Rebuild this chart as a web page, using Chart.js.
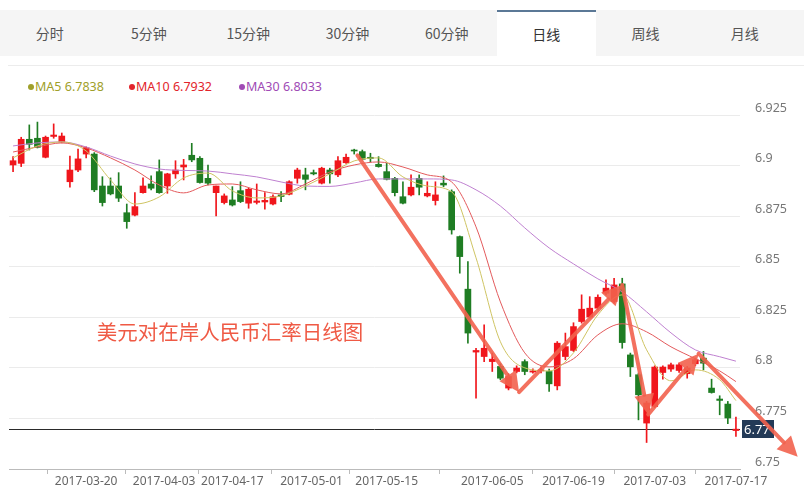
<!DOCTYPE html>
<html>
<head>
<meta charset="utf-8">
<script src="https://cdn.jsdelivr.net/npm/chart.js@4.4.0/dist/chart.umd.min.js"></script>
<style>
body{margin:0;background:#fff;font-family:"Noto Sans CJK SC","Noto Sans",sans-serif;}
#wrap{position:relative;width:804px;height:500px;overflow:hidden;}
#tabs{position:absolute;left:0;top:10px;width:804px;height:46px;background:#f5f5f5;}
.tab{position:absolute;top:0;width:99.3px;height:46px;text-align:center;line-height:46px;font-size:14px;color:#555;}
.tab.on{background:#fff;color:#333;box-sizing:border-box;border-top:2px solid #5b7896;line-height:44px;}
#sep{position:absolute;left:8px;right:0;top:65px;height:1px;background:#ececec;}
#legend span{position:absolute;top:78px;font:12.5px "Noto Sans",sans-serif;white-space:nowrap;}
#legend i{display:inline-block;width:6px;height:6px;border-radius:3px;margin-right:1px;vertical-align:1px;}
#cv{position:absolute;left:0;top:60px;}
</style>
</head>
<body>
<div id="wrap">
  <div id="tabs"></div>
  <div id="sep"></div>
  <div id="legend"></div>
  <canvas id="cv" width="804" height="440"></canvas>
</div>
<script>
// tabs and chart data

var tabNames = ['分时', '5分钟', '15分钟', '30分钟', '60分钟', '日线', '周线', '月线'];
var activeTab = '日线';

var dates = [
  '2017-03-07','2017-03-08','2017-03-09','2017-03-10','2017-03-13','2017-03-14','2017-03-15','2017-03-16','2017-03-17',
  '2017-03-20','2017-03-21','2017-03-22','2017-03-23','2017-03-24','2017-03-27','2017-03-28','2017-03-29','2017-03-30','2017-03-31',
  '2017-04-05','2017-04-06','2017-04-07','2017-04-10','2017-04-11','2017-04-12','2017-04-13','2017-04-14',
  '2017-04-17','2017-04-18','2017-04-19','2017-04-20','2017-04-21','2017-04-24','2017-04-25','2017-04-26','2017-04-27','2017-04-28',
  '2017-05-02','2017-05-03','2017-05-04','2017-05-05','2017-05-08','2017-05-09','2017-05-10','2017-05-11','2017-05-12',
  '2017-05-15','2017-05-16','2017-05-17','2017-05-18','2017-05-19','2017-05-22','2017-05-23','2017-05-24','2017-05-25','2017-05-26',
  '2017-05-31','2017-06-01','2017-06-02','2017-06-05','2017-06-06','2017-06-07','2017-06-08','2017-06-09',
  '2017-06-12','2017-06-13','2017-06-14','2017-06-15','2017-06-16','2017-06-19','2017-06-20','2017-06-21','2017-06-22','2017-06-23',
  '2017-06-26','2017-06-27','2017-06-28','2017-06-29','2017-06-30','2017-07-03','2017-07-04','2017-07-05','2017-07-06','2017-07-07',
  '2017-07-10','2017-07-11','2017-07-12','2017-07-13','2017-07-14','2017-07-17'
];

var open = [
  6.9003,6.9011,6.9130,6.9135,6.9041,6.9144,6.9115,6.8920,6.8978,6.9057,
  6.9057,6.8899,6.8899,6.8899,6.8767,6.8755,6.8866,6.8909,6.8970,6.8899,
  6.8959,6.8993,6.9051,6.9036,6.8937,6.8866,6.8817,6.8830,6.8876,6.8814,
  6.8818,6.8820,6.8810,6.8855,6.8858,6.8937,6.8954,6.8965,6.8913,6.8978,
  6.8954,6.9014,6.9077,6.9069,6.9041,6.9006,6.8970,6.8937,6.8846,6.8855,
  6.8937,6.8850,6.8827,6.8913,6.8871,6.8649,6.8389,6.8078,6.8056,6.8031,
  6.8007,6.7900,6.7982,6.8031,6.7979,6.7985,6.7982,6.7911,6.8056,6.8086,
  6.8229,6.8251,6.8295,6.8369,6.8328,6.8415,6.8064,6.7966,6.7727,6.7809,
  6.7977,6.7994,6.7987,6.7971,6.8020,6.8048,6.7900,6.7846,6.7821,6.7690
];
var close = [
  6.9024,6.9130,6.9105,6.9090,6.9140,6.9151,6.9146,6.8978,6.9033,6.9088,
  6.8880,6.8817,6.8860,6.8839,6.8723,6.8797,6.8899,6.8888,6.8866,6.8959,
  6.8978,6.9003,6.9028,6.8916,6.8913,6.8899,6.8850,6.8805,6.8822,6.8883,
  6.8825,6.8828,6.8846,6.8847,6.8920,6.8978,6.8932,6.8959,6.8987,6.8959,
  6.9024,6.9041,6.9072,6.9031,6.9035,6.8995,6.8932,6.8866,6.8814,6.8893,
  6.8893,6.8863,6.8855,6.8904,6.8682,6.8550,6.8172,6.8086,6.8097,6.8043,
  6.7949,6.7957,6.7999,6.7982,6.7985,6.7990,6.7921,6.8122,6.8105,6.8204,
  6.8290,6.8295,6.8349,6.8394,6.8410,6.8125,6.8005,6.7867,6.7826,6.8004,
  6.8004,6.8015,6.8015,6.7999,6.8040,6.8023,6.7878,6.7839,6.7752,6.7697
];
var high = [
  6.9044,6.9140,6.9201,6.9215,6.9146,6.9206,6.9161,6.9047,6.9081,6.9093,
  6.9064,6.8945,6.8939,6.8965,6.8810,6.8866,6.8939,6.8949,6.9028,6.8962,
  6.9024,6.9031,6.9110,6.9044,6.9003,6.8899,6.8860,6.8896,6.8920,6.8888,
  6.8909,6.8866,6.8855,6.8871,6.8925,6.8987,6.8987,6.8978,6.8992,6.8987,
  6.9044,6.9057,6.9081,6.9077,6.9061,6.9044,6.9011,6.8942,6.8920,6.8954,
  6.8954,6.8920,6.8920,6.8949,6.8880,6.8652,6.8525,6.8097,6.8213,6.8073,
  6.8020,6.7971,6.8010,6.8040,6.7995,6.8005,6.7994,6.8130,6.8172,6.8223,
  6.8361,6.8352,6.8361,6.8435,6.8443,6.8443,6.8073,6.7974,6.7834,6.8010,
  6.8010,6.8023,6.8023,6.8007,6.8048,6.8081,6.7944,6.7862,6.7834,6.7757
];
var low = [
  6.8970,6.8995,6.9077,6.9087,6.9038,6.9135,6.9112,6.8893,6.8970,6.9038,
  6.8871,6.8800,6.8855,6.8822,6.8690,6.8751,6.8863,6.8880,6.8863,6.8863,
  6.8937,6.8929,6.9019,6.8913,6.8904,6.8751,6.8810,6.8800,6.8817,6.8789,
  6.8810,6.8784,6.8805,6.8822,6.8855,6.8913,6.8880,6.8954,6.8909,6.8913,
  6.8945,6.9011,6.9057,6.9028,6.9019,6.8992,6.8929,6.8850,6.8810,6.8850,
  6.8855,6.8845,6.8805,6.8896,6.8661,6.8468,6.8122,6.7850,6.8031,6.7982,
  6.7941,6.7891,6.7975,6.7966,6.7974,6.7975,6.7883,6.7891,6.8040,6.8081,
  6.8221,6.8246,6.8287,6.8361,6.8320,6.8097,6.7957,6.7743,6.7631,6.7803,
  6.7944,6.7982,6.7977,6.7949,6.8010,6.7990,6.7875,6.7768,6.7724,6.7661
];

// moving averages every third day
var maDays = [0,3,6,9,12,15,18,21,24,27,30,33,36,39,42,45,48,51,54,57,60,63,66,69,72,75,78,81,84,87,89];
var ma5 = [
  6.9038,6.9097,6.9117,6.9072,6.8929,6.8810,6.8845,6.8939,6.8963,6.8875,6.8840,6.8850,6.8899,6.8959,6.9023,6.9038,
  6.8944,6.8899,6.8870,6.8544,6.8129,6.8000,6.7985,6.8074,6.8262,6.8361,6.8089,6.7936,6.7990,6.7941,6.7838
];
var ma10 = [
  6.9067,6.9092,6.9112,6.9087,6.9038,6.8978,6.8904,6.8865,6.8904,6.8909,6.8880,6.8860,6.8909,6.8968,6.9003,6.9018,
  6.8993,6.8954,6.8919,6.8697,6.8326,6.8074,6.8005,6.8045,6.8163,6.8218,6.8178,6.8104,6.8045,6.7985,6.7932
];
var ma30 = [
  6.9097,6.9112,6.9117,6.9092,6.9047,6.9008,6.8983,6.8976,6.8973,6.8959,6.8944,6.8919,6.8899,6.8897,6.8914,6.8934,
  6.8934,6.8934,6.8929,6.8880,6.8800,6.8692,6.8593,6.8514,6.8440,6.8376,6.8277,6.8173,6.8089,6.8055,6.8033
];

var tickDates = ['2017-03-20','2017-04-03','2017-04-17','2017-05-01','2017-05-15','2017-06-05','2017-06-19','2017-07-03','2017-07-17'];

// hand drawn trend arrows and note, in (day, price)
var arrowPath = [[42.4,6.905],[62.3,6.788],[75.0,6.841],[78.2,6.777],[84.4,6.807],[96.6,6.756]];
var noteText = '美元对在岸人民币汇率日线图';
var noteAt = [10.3, 6.8175];

var UP = '#f0161c', DOWN = '#1f7d23';
var lastPrice = close[close.length - 1];

// tabs
var tabs = document.getElementById('tabs');
tabNames.forEach(function (t, i) {
  var d = document.createElement('div');
  d.className = 'tab' + (t == activeTab ? ' on' : '');
  d.style.left = (i * 99.3) + 'px';
  d.textContent = t;
  tabs.appendChild(d);
});

// legend
var legendItems = [
  {name: 'MA5', vals: ma5, color: '#9fa02a', x: 28},
  {name: 'MA10', vals: ma10, color: '#e2242b', x: 129},
  {name: 'MA30', vals: ma30, color: '#a04bb5', x: 239}
];
var legend = document.getElementById('legend');
legendItems.forEach(function (m) {
  var s = document.createElement('span');
  s.style.left = m.x + 'px';
  s.style.color = m.color;
  s.innerHTML = '<i style="background:' + m.color + '"></i>' + m.name + ' ' + m.vals[m.vals.length - 1].toFixed(4);
  legend.appendChild(s);
});

function posOfDate(d) {
  var i = dates.indexOf(d);
  if (i >= 0) return i;
  var t = Date.parse(d);
  var j = dates.findIndex(function (s) { return Date.parse(s) > t; });
  var t0 = Date.parse(dates[j - 1]), t1 = Date.parse(dates[j]);
  return j - 1 + (t - t0) / (t1 - t0);
}

var candleColors = close.map(function (c, i) { return c >= open[i] ? UP : DOWN; });

function maLine(label, vals, color) {
  return {
    type: 'line', label: label,
    data: maDays.map(function (x, k) { return {x: x, y: vals[k]}; }),
    borderColor: color, borderWidth: 1, pointRadius: 0,
    cubicInterpolationMode: 'monotone', order: 0
  };
}

var overlay = {
  id: 'overlay',
  beforeDatasetsDraw: function (chart) {
    var ctx = chart.ctx, a = chart.chartArea, y = chart.scales.y;
    var py = Math.round(y.getPixelForValue(lastPrice)) + 0.5;
    ctx.save();
    ctx.strokeStyle = '#2a2a2a';
    ctx.lineWidth = 1;
    ctx.beginPath();
    ctx.moveTo(a.left, py);
    ctx.lineTo(a.right, py);
    ctx.stroke();
    ctx.restore();
  },
  afterDraw: function (chart) {
    var ctx = chart.ctx, a = chart.chartArea, xs = chart.scales.x, ys = chart.scales.y;
    ctx.save();
    // last price box
    var py = Math.round(ys.getPixelForValue(lastPrice));
    ctx.fillStyle = '#233a57';
    ctx.fillRect(a.right + 2, py - 9, 32, 18);
    ctx.fillStyle = '#fff';
    ctx.font = '13px "Noto Sans", sans-serif';
    ctx.textBaseline = 'middle';
    ctx.textAlign = 'left';
    ctx.fillText(lastPrice.toFixed(2), a.right + 4, py + 1);

    // note
    ctx.fillStyle = '#ef5a45';
    ctx.font = '20.5px "Noto Sans CJK SC", sans-serif';
    ctx.fillText(noteText, xs.getPixelForValue(noteAt[0]), ys.getPixelForValue(noteAt[1]));

    // arrows
    var col = 'rgba(242,98,78,0.9)';
    ctx.strokeStyle = col;
    ctx.fillStyle = col;
    ctx.lineWidth = 4;
    ctx.lineCap = 'round';
    for (var k = 1; k < arrowPath.length; k++) {
      var x0 = xs.getPixelForValue(arrowPath[k - 1][0]), y0 = ys.getPixelForValue(arrowPath[k - 1][1]);
      var x1 = xs.getPixelForValue(arrowPath[k][0]), y1 = ys.getPixelForValue(arrowPath[k][1]);
      var ang = Math.atan2(y1 - y0, x1 - x0);
      var hl = 20, hw = 10;
      var bx = x1 - hl * Math.cos(ang), by = y1 - hl * Math.sin(ang);
      ctx.beginPath();
      ctx.moveTo(x0, y0);
      ctx.lineTo(bx, by);
      ctx.stroke();
      ctx.beginPath();
      ctx.moveTo(x1, y1);
      ctx.lineTo(bx + hw * Math.sin(ang), by - hw * Math.cos(ang));
      ctx.lineTo(bx - hw * Math.sin(ang), by + hw * Math.cos(ang));
      ctx.closePath();
      ctx.fill();
    }
    ctx.restore();
  }
};

var chart = new Chart(document.getElementById('cv'), {
  type: 'bar',
  data: {
    datasets: [
      maLine('MA5', ma5, '#cfc463'),
      maLine('MA10', ma10, '#e35a5c'),
      maLine('MA30', ma30, '#bf80d0'),
      {
        label: 'body',
        data: dates.map(function (d, i) { return {x: i, y: [open[i], close[i]]}; }),
        backgroundColor: candleColors, barThickness: 6, minBarLength: 1,
        grouped: false, order: 1
      },
      {
        label: 'wick',
        data: dates.map(function (d, i) { return {x: i, y: [low[i], high[i]]}; }),
        backgroundColor: candleColors, barThickness: 1,
        grouped: false, order: 2
      }
    ]
  },
  options: {
    responsive: false,
    animation: false,
    devicePixelRatio: 1,
    layout: {padding: {left: 9, right: 0, top: 55, bottom: 0}},
    plugins: {legend: {display: false}, tooltip: {enabled: false}},
    scales: {
      x: {
        type: 'linear', min: -0.5, max: dates.length - 0.5, offset: false,
        afterBuildTicks: function (s) {
          s.ticks = tickDates.map(function (d) { return {value: posOfDate(d)}; });
        },
        afterFit: function (s) { s.height = 31; },
        ticks: {
          autoSkip: false, maxRotation: 0, padding: 0,
          color: '#666', font: {size: 12, family: '"Noto Sans", sans-serif'},
          callback: function (v, i) { return tickDates[i]; }
        },
        grid: {drawOnChartArea: false, tickLength: 5, color: '#bbb'},
        border: {display: true, color: '#bbb'}
      },
      y: {
        position: 'right', min: 6.75, max: 6.925,
        afterFit: function (s) { s.width = 64; },
        ticks: {
          stepSize: 0.025, padding: 15, labelOffset: -7,
          color: '#777', font: {size: 12.5, family: '"Noto Sans", sans-serif'},
          callback: function (v) { return String(parseFloat(v.toFixed(3))); }
        },
        grid: {color: '#ebebeb', drawTicks: false},
        border: {display: false}
      }
    }
  },
  plugins: [overlay]
});
</script>
</body>
</html>
